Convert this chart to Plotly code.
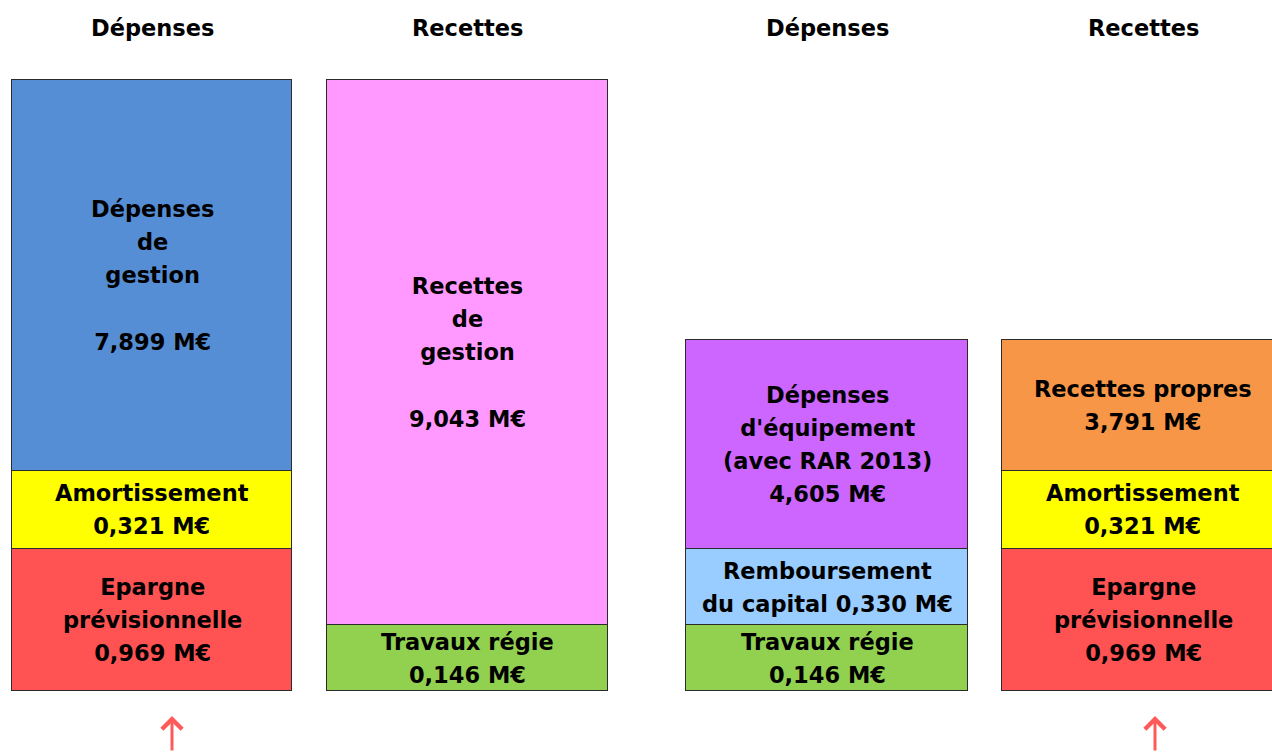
import plotly.graph_objects as go

# ---- data ----
panels = ["F", "F", "F", "F", "F", "I", "I", "I", "I", "I", "I"]
columns = ["Dépenses", "Dépenses", "Dépenses", "Recettes", "Recettes",
           "Dépenses", "Dépenses", "Dépenses", "Recettes", "Recettes", "Recettes"]
seg_names = [
    "Epargne<br>prévisionnelle", "Amortissement", "Dépenses<br>de<br>gestion<br>",
    "Travaux régie", "Recettes<br>de<br>gestion<br>",
    "Travaux régie", "Remboursement<br>du capital", "Dépenses<br>d'équipement<br>(avec RAR 2013)",
    "Epargne<br>prévisionnelle", "Amortissement", "Recettes propres",
]
seg_values = [0.969, 0.321, 7.899, 0.146, 9.043,
              0.146, 0.330, 4.605, 0.969, 0.321, 3.791]
# drawn heights of the blocks (not proportional to values)
seg_heights = [2.14, 1.17, 5.88, 0.99, 8.20,
               0.99, 1.14, 3.15, 2.14, 1.17, 1.97]
value_inline = [False, False, False, False, False, False, True, False, False, False, False]
header_labels = ["Dépenses", "Recettes"]

# ---- style ----
seg_colors = ["#FF5252", "#FFFF00", "#558ED5", "#92D050", "#FF99FF",
              "#92D050", "#99CCFF", "#CC66FF", "#FF5252", "#FFFF00", "#F79646"]
FONT = "DejaVu Sans"
GLYPH = 22.5
LINEBOX = 25.5


def fmt(v):
    return f"{v:.3f}".replace(".", ",") + " M€"


def styled(text):
    lines = text.split("<br>")
    return "<br>".join(
        f"<span style='font-size:{GLYPH}px'>{ln}</span>" if ln else "" for ln in lines)


fig = go.Figure()
annotations = []
cum = {}
for p, c, name, v, h, col, inline in zip(panels, columns, seg_names, seg_values,
                                         seg_heights, seg_colors, value_inline):
    xa = "x" if p == "F" else "x2"
    ya = "y" if p == "F" else "y2"
    base = cum.get((p, c), 0.0)
    fig.add_trace(go.Bar(
        x=[c], y=[h], xaxis=xa, yaxis=ya, width=0.89,
        marker=dict(color=col, line=dict(color="#2b2b2b", width=1.5)),
        hovertext=[f"{name.replace('<br>', ' ')} {fmt(v)}"], hoverinfo="text",
        showlegend=False,
    ))
    label = name + (" " if inline else "<br>") + fmt(v)
    annotations.append(dict(
        x=c, y=base + h / 2, xref=xa, yref=ya, text=styled(label),
        showarrow=False, xanchor="center", yanchor="middle",
        font=dict(family=FONT, size=LINEBOX, color="black", weight="bold"),
    ))
    cum[(p, c)] = base + h

for xa in ["x", "x2"]:
    for lab in header_labels:
        annotations.append(dict(
            x=lab, y=1 - 28 / 752, xref=xa, yref="paper",
            text=f"<span style='font-size:{GLYPH}px'>{lab}</span>",
            showarrow=False, xanchor="center", yanchor="middle",
            font=dict(family=FONT, size=LINEBOX, color="black", weight="bold"),
        ))

for ax_x in [172 / 1272, 1155 / 1272]:
    annotations.append(dict(
        x=ax_x, y=1 - 716 / 752, xref="paper", yref="paper", text="",
        showarrow=True, ax=0, ay=48, arrowhead=4, arrowsize=1.3, arrowwidth=3,
        arrowcolor="#FF5A5A",
    ))

axis_off = dict(visible=False, showgrid=False, zeroline=False, fixedrange=True)
fig.update_layout(
    width=1272, height=752, barmode="stack",
    margin=dict(l=0, r=0, t=0, b=0),
    paper_bgcolor="white", plot_bgcolor="white",
    xaxis=dict(domain=[0, 0.5], range=[-0.4818, 1.534], type="category",
               categoryorder="array", categoryarray=header_labels, **axis_off),
    xaxis2=dict(domain=[0.5, 1], range=[-0.6044, 1.408], type="category",
                categoryorder="array", categoryarray=header_labels, **axis_off),
    yaxis=dict(domain=[0, 1], range=[-0.917, 10.391], **axis_off),
    yaxis2=dict(domain=[0, 1], range=[-0.917, 10.391], anchor="x2", **axis_off),
    annotations=annotations,
    bargap=0,
)
fig.write_html("out.html", config={"displayModeBar": False},
               post_script="document.body.style.margin='0';document.body.style.overflow='hidden';")
